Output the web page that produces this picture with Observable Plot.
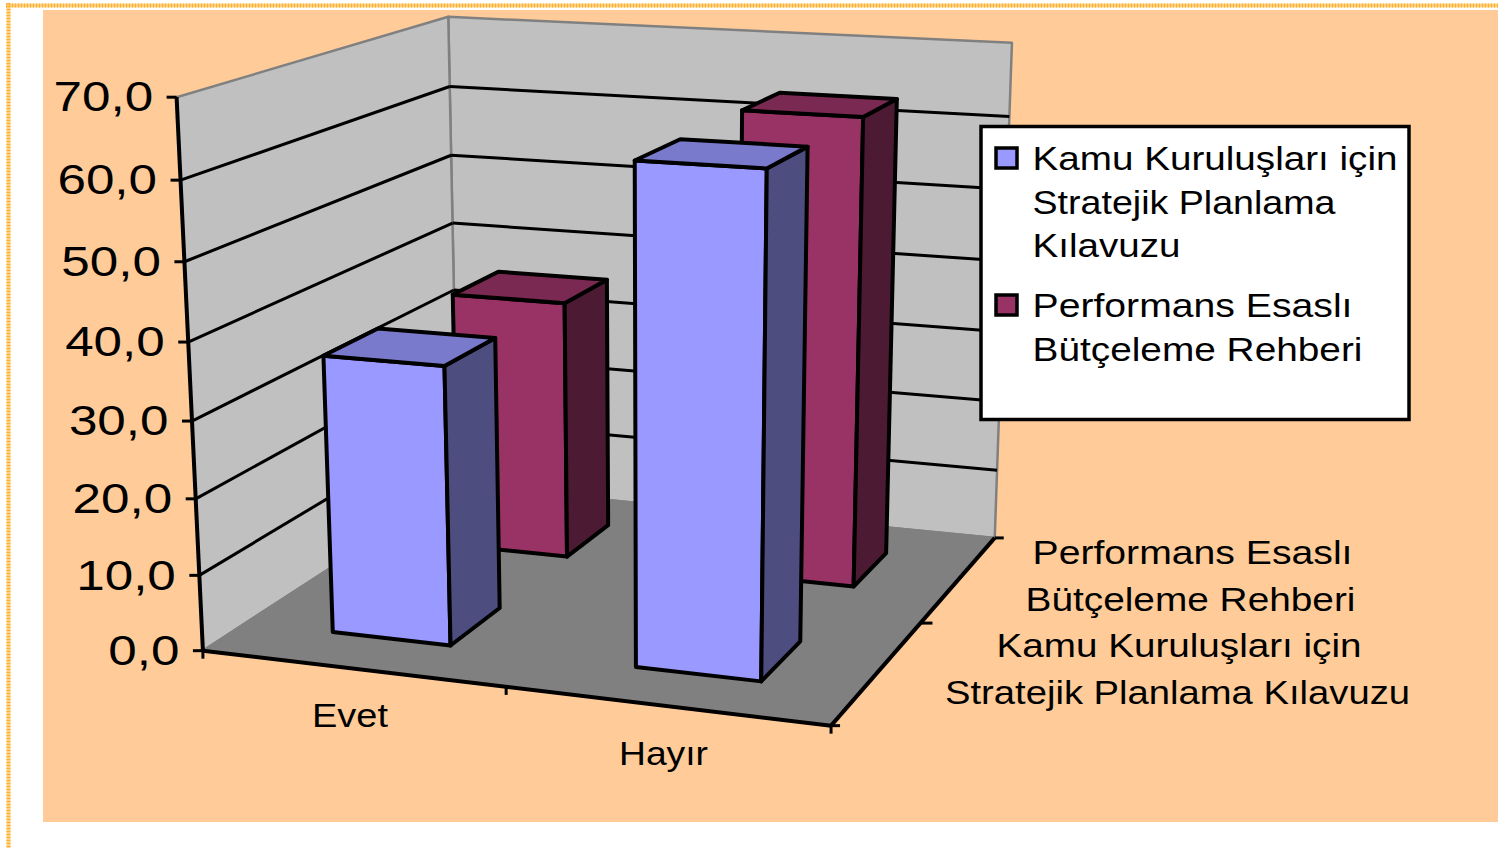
<!DOCTYPE html>
<html><head><meta charset="utf-8">
<style>html,body{margin:0;padding:0;background:#fff}svg{display:block}</style>
<script src="https://cdn.jsdelivr.net/npm/d3@7"></script>
<script src="https://cdn.jsdelivr.net/npm/@observablehq/plot@0.6"></script>
</head><body><div id="c"></div>
<script>
// Data
const categories = ["Evet", "Hayır"];
const seriesNames = ["Kamu Kuruluşları için Stratejik Planlama Kılavuzu", "Performans Esaslı Bütçeleme Rehberi"];
const kamuValues = [36.5, 63.5];
const perfValues = [36, 63.5];
const valueTicks = [0, 10, 20, 30, 40, 50, 60, 70];
const tickLabels = ["0,0", "10,0", "20,0", "30,0", "40,0", "50,0", "60,0", "70,0"];
const legendLines = ["Kamu Kuruluşları için", "Stratejik Planlama", "Kılavuzu", "Performans Esaslı", "Bütçeleme Rehberi"];
const depthLines = ["Performans Esaslı", "Bütçeleme Rehberi", "Kamu Kuruluşları için", "Stratejik Planlama Kılavuzu"];
// printed widths of the stretched lettering
const textWidths = {"Kamu Kuruluşları için":365,"Stratejik Planlama":303,"Kılavuzu":148,"Performans Esaslı":320,"Bütçeleme Rehberi":330,"Stratejik Planlama Kılavuzu":465,"Evet":76,"Hayır":89};

// 3D view: wall corners seen in the picture fix a perspective camera
const view = [[0,0,0,203,651],[1,0,0,829,726],[1,1,0,995,536],
              [0,0,70,177,95],[0,1,70,446.5,17],[1,1,70,1012,43]];
function solve(A,b){const n=b.length,M=A.map((r,i)=>[...r,b[i]]);
  for(let i=0;i<n;i++){let p=i;for(let k=i+1;k<n;k++)if(Math.abs(M[k][i])>Math.abs(M[p][i]))p=k;
    [M[i],M[p]]=[M[p],M[i]];
    for(let k=0;k<n;k++)if(k!==i){const f=M[k][i]/M[i][i];for(let j=i;j<=n;j++)M[k][j]-=f*M[i][j];}}
  return M.map((r,i)=>r[n]/r[i]);}
const rowsA=[],rowsB=[];
for(const [u,v,h0,x,y] of view){const h=h0/70;
  rowsA.push([u,v,h,1,0,0,0,0,-x*u,-x*v,-x*h]);rowsB.push(x);
  rowsA.push([0,0,0,0,u,v,h,1,-y*u,-y*v,-y*h]);rowsB.push(y);}
const ATA=d3.range(11).map(i=>d3.range(11).map(j=>d3.sum(rowsA,r=>r[i]*r[j])));
const ATb=d3.range(11).map(i=>d3.sum(rowsA,(r,k)=>r[i]*rowsB[k]));
const m=solve(ATA,ATb);
function P(u,v,h0){const h=h0/70,w=m[8]*u+m[9]*v+m[10]*h+1;
  return [(m[0]*u+m[1]*v+m[2]*h+m[3])/w,(m[4]*u+m[5]*v+m[6]*h+m[7])/w];}

const faces=[];
function face(id,fill,pts){pts.concat([pts[0]]).forEach(p=>{const [x,y]=P(...p);faces.push({id,fill,x,y});});}
const uSpan=[[0.148,0.347],[0.65,0.848]];
const vSpan=[[0.15,0.35],[0.65,0.85]];
const palette=[["#9999FF","#7A7ACC","#4D4D80"],["#993366","#7A2952","#4D1A33"]];
function bar(id,c,s,val){const [u1,u2]=uSpan[c],[v1,v2]=vSpan[s],[f,t,r]=palette[s];
  face(id+"f",f,[[u1,v1,0],[u2,v1,0],[u2,v1,val],[u1,v1,val]]);
  face(id+"r",r,[[u2,v1,0],[u2,v2,0],[u2,v2,val],[u2,v1,val]]);
  face(id+"t",t,[[u1,v1,val],[u2,v1,val],[u2,v2,val],[u1,v2,val]]);}
bar("p0",0,1,perfValues[0]);bar("p1",1,1,perfValues[1]);
bar("k0",0,0,kamuValues[0]);bar("k1",1,0,kamuValues[1]);

const walls=[];
function wall(id,fill,pts){pts.concat([pts[0]]).forEach(p=>{const [x,y]=P(...p);walls.push({id,fill,x,y});});}
wall("back","#C0C0C0",[[0,1,0],[1,1,0],[1,1,70],[0,1,70]]);
wall("left","#C0C0C0",[[0,0,0],[0,1,0],[0,1,70],[0,0,70]]);
wall("floor","#808080",[[0,0,0],[1,0,0],[1,1,0],[0,1,0]]);

const seg=(a,b)=>{const [x1,y1]=P(...a),[x2,y2]=P(...b);return {x1,y1,x2,y2};};
const grid=valueTicks.filter(t=>t>0&&t<70).flatMap(t=>[seg([0,0,t],[0,1,t]),seg([0,1,t],[1,1,t])]);
const axes=[seg([0,0,70],[0,0,0]),seg([0,0,0],[1,0,0]),seg([1,0,0],[1,1,0])];
const tk=(p,dx,dy)=>{const [x,y]=P(...p);return {x1:x+dx,y1:y+dy,x2:x,y2:y};};
const ticks=[...valueTicks.map(t=>tk([0,0,t],-10,0)),
  tk([0,0,0],0,8),tk([0.5,0,0],0,8),tk([1,0,0],0,8),
  tk([1,0,0],9,0),tk([1,0.5,0],12,0),tk([1,1,0],9,0)];
const valueText=valueTicks.map((t,i)=>{const [x,y]=P(0,0,t);return {x:x-23.5,y:y+0.5,text:tickLabels[i]};});

const fontFamily="Liberation Sans, Arial, sans-serif";
const legendRows=legendLines.map((text,i)=>({text,x:1032,y:[169,213,256.5,316,360][i]}));
const depthRows=depthLines.map((text,i)=>({text,x:[1192,1190,1178.5,1177][i],y:[563,610,656,703][i]}));
const catRows=categories.map((text,i)=>({text,x:[349.5,663][i],y:[726,764][i]}));

const chart=Plot.plot({
  width:1498,height:848,margin:0,
  x:{domain:[0,1498],range:[0,1498],axis:null},
  y:{domain:[0,848],range:[0,848],axis:null},
  color:{type:"identity"},
  marks:[
    Plot.rect([{}],{x1:43,x2:1498,y1:10,y2:822,fill:"#FFCC99"}),
    Plot.ruleX([8],{y1:3,y2:848,stroke:"#FFD080",strokeWidth:4}),
    Plot.ruleY([5],{x1:6,x2:1498,stroke:"#FFD080",strokeWidth:4}),
    Plot.ruleX([8],{y1:3,y2:848,stroke:"#FFB030",strokeWidth:4,strokeDasharray:"1 2"}),
    Plot.ruleY([5],{x1:6,x2:1498,stroke:"#FFB030",strokeWidth:4,strokeDasharray:"1 2"}),
    Plot.line(walls,{x:"x",y:"y",z:"id",fill:"fill",stroke:"#808080",strokeWidth:2.5}),
    Plot.link(grid,{x1:"x1",y1:"y1",x2:"x2",y2:"y2",stroke:"black",strokeWidth:3}),
    Plot.link(axes,{x1:"x1",y1:"y1",x2:"x2",y2:"y2",stroke:"black",strokeWidth:4}),
    Plot.link(ticks,{x1:"x1",y1:"y1",x2:"x2",y2:"y2",stroke:"black",strokeWidth:3}),
    Plot.line(faces,{x:"x",y:"y",z:"id",fill:"fill",stroke:"black",strokeWidth:4}),
    Plot.text(valueText,{x:"x",y:"y",text:"text",textAnchor:"end",lineAnchor:"middle",fontSize:43,fontFamily,fill:"black"}),
    Plot.text(catRows,{x:"x",y:"y",text:"text",textAnchor:"middle",lineAnchor:"bottom",fontSize:33,fontFamily,fill:"black"}),
    Plot.text(depthRows,{x:"x",y:"y",text:"text",textAnchor:"middle",lineAnchor:"bottom",fontSize:33,fontFamily,fill:"black"}),
    Plot.rect([{}],{x1:981,x2:1409,y1:126.5,y2:419.5,fill:"white",stroke:"black",strokeWidth:3.5}),
    Plot.rect([0,1],{x1:d=>[996,996][d],x2:d=>[1017,1017][d],y1:d=>[148,295][d],y2:d=>[168,315][d],fill:d=>palette[d][0],stroke:"black",strokeWidth:3.5}),
    Plot.text(legendRows,{x:"x",y:"y",text:"text",textAnchor:"start",lineAnchor:"bottom",fontSize:33,fontFamily,fill:"black"})
  ]
});
document.getElementById("c").appendChild(chart);
// the reference's lettering is horizontally stretched
chart.querySelectorAll("text").forEach(t=>{
  const len=t.getComputedTextLength();
  const w=textWidths[t.textContent]||len*1.19;
  if(len>0){t.setAttribute("textLength",w);t.setAttribute("lengthAdjust","spacingAndGlyphs");}
});
</script></body></html>
